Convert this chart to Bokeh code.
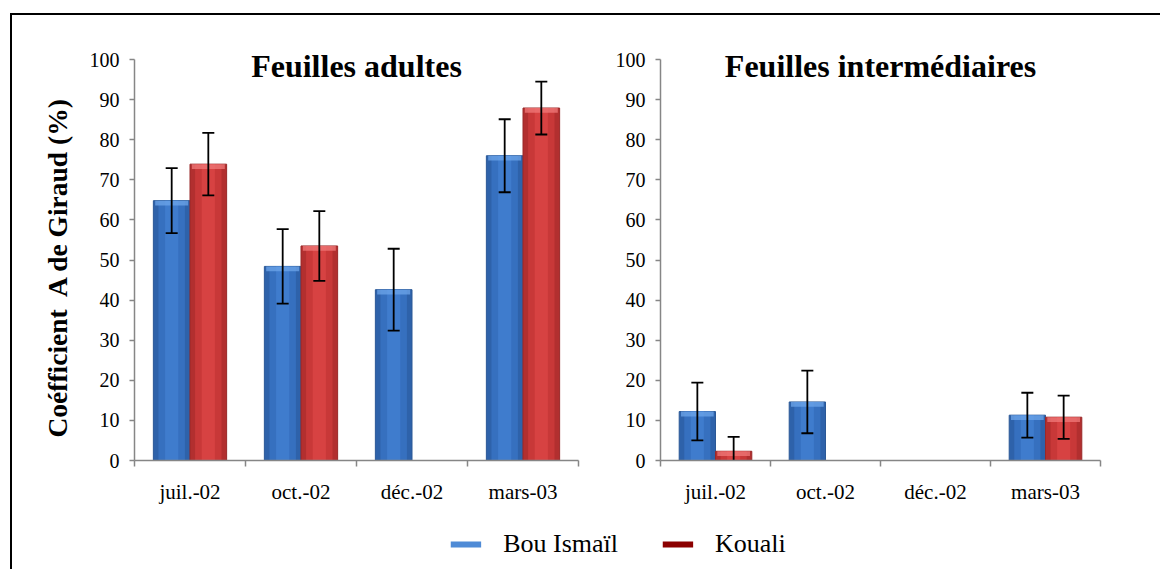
import numpy as np
from bokeh.plotting import figure
from bokeh.models import Range1d, FixedTicker, ColumnDataSource
from bokeh.layouts import column, row
from bokeh.embed import file_html
from bokeh.resources import INLINE

# ---------------- data ----------------
categories = ["juil.-02", "oct.-02", "déc.-02", "mars-03"]
series_names = ["Bou Ismaïl", "Kouali"]

adult_bou = [64.8, 48.4, 42.6, 76.0]
adult_bou_err = [8.1, 9.3, 10.2, 9.1]
adult_kou = [73.9, 53.5, 0.0, 87.9]
adult_kou_err = [7.8, 8.7, 0.0, 6.6]

inter_bou = [12.2, 14.6, 0.0, 11.3]
inter_bou_err = [7.2, 7.8, 0.0, 5.6]
inter_kou = [2.3, 0.0, 0.0, 10.8]
inter_kou_err = [3.6, 0.0, 0.0, 5.4]

y_ticks = [0, 10, 20, 30, 40, 50, 60, 70, 80, 90, 100]

title_left = "Feuilles adultes"
title_right = "Feuilles intermédiaires"
y_label = "Coéfficient\u00a0 A de Giraud (%)\u00a0\u00a0"

# ---------------- style ----------------
FONT = "Liberation Serif"
AXIS_GRAY = "#868686"
BORDER = "2px solid black"
BLUE = dict(edge="#2a5896", base="#2e62aa", mid="#3670bf", hi="#3f7ccd",
            bevel="#6ea6ea", legend="#4f8bd6")
RED = dict(edge="#992828", base="#b22f2f", mid="#c83838", hi="#d74242",
           bevel="#f07a7a", legend="#8c0000")
BAR_W = 0.33
OFFSET = 0.165
BEVEL = 1.2

xc = np.arange(len(categories)) + 0.5


def draw_series(p, xpos, vals, errs, col):
    src = ColumnDataSource(dict(x=xpos, top=vals))
    p.vbar(x="x", top="top", bottom=0, width=BAR_W, source=src,
           fill_color=col["base"], line_color=col["edge"], line_width=1)
    p.vbar(x="x", top="top", bottom=0, width=BAR_W * 0.72, source=src,
           fill_color=col["mid"], line_color=None)
    p.vbar(x="x", top="top", bottom=0, width=BAR_W * 0.36, source=src,
           fill_color=col["hi"], line_color=None)
    v = np.array(vals, dtype=float)
    e = np.array(errs, dtype=float)
    pos = v > 0
    bsrc = ColumnDataSource(dict(x=np.asarray(xpos)[pos], top=v[pos],
                                 bot=np.maximum(v[pos] - BEVEL, 0)))
    p.vbar(x="x", top="top", bottom="bot", width=BAR_W * 0.9, source=bsrc,
           fill_color=col["bevel"], fill_alpha=0.75, line_color=None)
    m = e > 0
    esrc = ColumnDataSource(dict(x=np.asarray(xpos)[m], lo=(v - e)[m], hi=(v + e)[m]))
    p.segment(x0="x", y0="lo", x1="x", y1="hi", source=esrc,
              line_color="black", line_width=1.8)
    p.scatter(x="x", y="hi", source=esrc, marker="dash", size=12,
              line_color="black", line_width=1.8)
    p.scatter(x="x", y="lo", source=esrc, marker="dash", size=12,
              line_color="black", line_width=1.8)


def make_chart(title, bou, bou_err, kou, kou_err, width, mbl, mbr, mbt, mbb,
               styles, ylab=None):
    p = figure(width=width, height=506, x_range=Range1d(0, 4), y_range=Range1d(0, 100),
               output_backend="svg", toolbar_location=None,
               min_border_left=mbl, min_border_right=mbr,
               min_border_top=mbt, min_border_bottom=mbb, styles=styles)
    p.outline_line_color = None
    p.grid.visible = False
    p.background_fill_color = "white"
    p.border_fill_color = "white"

    p.title.text = title
    p.title.align = "center"
    p.title.text_font = FONT
    p.title.text_font_size = "32px"
    p.title.text_font_style = "bold"
    p.title.text_color = "black"
    p.title.standoff = -48

    draw_series(p, xc - OFFSET, bou, bou_err, BLUE)
    draw_series(p, xc + OFFSET, kou, kou_err, RED)

    # x axis
    xa = p.xaxis[0]
    xa.ticker = FixedTicker(ticks=list(xc), minor_ticks=list(range(len(categories) + 1)))
    xa.major_label_overrides = {float(x): c for x, c in zip(xc, categories)}
    xa.major_tick_out = 0
    xa.major_tick_in = 0
    xa.minor_tick_out = 6
    xa.minor_tick_in = 0
    xa.minor_tick_line_color = AXIS_GRAY
    xa.minor_tick_line_width = 1.5
    xa.axis_line_color = AXIS_GRAY
    xa.axis_line_width = 1.5
    xa.major_label_text_font = FONT
    xa.major_label_text_font_size = "21px"
    xa.major_label_text_color = "black"
    xa.major_label_standoff = 13

    # y axis
    ya = p.yaxis[0]
    ya.ticker = FixedTicker(ticks=y_ticks)
    ya.major_tick_out = 5
    ya.major_tick_in = 0
    ya.minor_tick_out = 0
    ya.minor_tick_in = 0
    ya.major_tick_line_color = AXIS_GRAY
    ya.major_tick_line_width = 1.5
    ya.axis_line_color = AXIS_GRAY
    ya.axis_line_width = 1.5
    ya.major_label_text_font = FONT
    ya.major_label_text_font_size = "20px"
    ya.major_label_text_color = "black"
    ya.major_label_standoff = 10
    if ylab:
        ya.axis_label = ylab
        ya.axis_label_text_font = FONT
        ya.axis_label_text_font_size = "27.5px"
        ya.axis_label_text_font_style = "bold"
        ya.axis_label_text_color = "black"
        ya.axis_label_standoff = 14
    return p


p1 = make_chart(title_left, adult_bou, adult_bou_err, adult_kou, adult_kou_err,
                width=600, mbl=122, mbr=34, mbt=44, mbb=61,
                styles={"border-top": BORDER, "border-left": BORDER}, ylab=y_label)
p2 = make_chart(title_right, inter_bou, inter_bou_err, inter_kou, inter_kou_err,
                width=556, mbl=50, mbr=66, mbt=44, mbb=61,
                styles={"border-top": BORDER})

# legend figure
pl = figure(width=1156, height=50, x_range=Range1d(0, 1), y_range=Range1d(0, 1),
            output_backend="svg", toolbar_location=None,
            min_border_left=74, min_border_right=18, min_border_top=0, min_border_bottom=0,
            styles={"border-left": BORDER})
pl.axis.visible = False
pl.grid.visible = False
pl.outline_line_color = None
pl.line(x=[-5, -4], y=[-5, -5], line_color=BLUE["legend"], line_width=6,
        legend_label=series_names[0])
pl.line(x=[-5, -4], y=[-5, -5], line_color=RED["legend"], line_width=6,
        legend_label=series_names[1])
lg = pl.legend[0]
lg.location = "center"
lg.orientation = "horizontal"
lg.border_line_color = None
lg.background_fill_alpha = 0
lg.label_text_font = FONT
lg.label_text_font_size = "26px"
lg.label_text_color = "black"
lg.glyph_width = 31
lg.glyph_height = 20
lg.label_standoff = 22
lg.spacing = 44
lg.padding = 0
lg.margin = 0

layout = column(row(p1, p2), pl, margin=(13, 0, 0, 10))

open("out.html", "w").write(file_html(layout, INLINE))
